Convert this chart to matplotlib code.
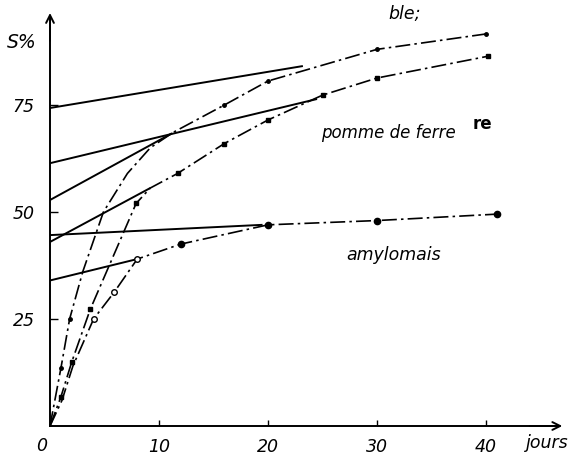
import matplotlib
matplotlib.use("Agg")
import matplotlib.pyplot as plt

# courbes de solubilisation S% en fonction du temps (jours)
ble_x = [0, 1, 1.8, 3, 4.9, 7.1, 9.2, 11.3, 16, 20, 30, 40]
ble_y = [0, 13.5, 25, 36, 50, 59, 65, 68.6, 75, 80.6, 88, 91.6]
ble_pts_x = [1, 1.8, 16, 20, 30, 40]
ble_pts_y = [13.5, 25, 75, 80.6, 88, 91.6]

pomme_x = [0, 1, 2, 3.7, 7.9, 9.2, 11.7, 16, 20, 25, 30, 40.2]
pomme_y = [0, 6.8, 15, 27.3, 52, 55.6, 59, 66, 71.5, 77.3, 81.3, 86.4]
pomme_pts_x = [1, 2, 3.7, 7.9, 11.7, 16, 20, 25, 30, 40.2]
pomme_pts_y = [6.8, 15, 27.3, 52, 59, 66, 71.5, 77.3, 81.3, 86.4]

amylo_x = [0, 1.1, 2.1, 4, 5.9, 8, 12, 20, 30, 41]
amylo_y = [0, 6, 14, 25, 31.3, 39, 42.5, 47, 48, 49.5]
amylo_open_x = [4, 5.9, 8]
amylo_open_y = [25, 31.3, 39]
amylo_full_x = [12, 20, 30, 41]
amylo_full_y = [42.5, 47, 48, 49.5]

# droites tracees depuis l'axe des S%
tangentes = [
    ([0, 23.2], [74.3, 84.1]),
    ([0, 24.5], [61.4, 76.4]),
    ([0, 11.2], [52.8, 68.4]),
    ([0, 9.2], [43, 55.6]),
    ([0, 19.5], [44.6, 47]),
    ([0, 8], [34, 39]),
]

x_ticks = [10, 20, 30, 40]
y_ticks = [25, 50, 75]

plt.rcParams["font.family"] = ["DejaVu Sans"]
plt.rcParams["font.style"] = "italic"
FS = 12.5

fig = plt.figure(figsize=(5.84, 4.61), dpi=100)
ax = fig.add_axes([0, 0, 1, 1])
ax.set_xlim(-4.587, 48.99)
ax.set_ylim(-8.18, 99.53)

for spine in ["top", "right"]:
    ax.spines[spine].set_visible(False)
ax.spines["left"].set_position(("data", 0))
ax.spines["bottom"].set_position(("data", 0))
ax.spines["left"].set_bounds(0, 95)
ax.spines["bottom"].set_bounds(0, 46.5)
ax.spines["left"].set_linewidth(1.4)
ax.spines["bottom"].set_linewidth(1.4)
ax.annotate("", xy=(47.0, 0), xytext=(44, 0),
            arrowprops=dict(arrowstyle="->", lw=1.4, color="black",
                            mutation_scale=14, shrinkA=0, shrinkB=0))
ax.annotate("", xy=(0, 96.5), xytext=(0, 90),
            arrowprops=dict(arrowstyle="->", lw=1.4, color="black",
                            mutation_scale=14, shrinkA=0, shrinkB=0))

ax.set_xticks(x_ticks)
ax.set_xticklabels([str(v) for v in x_ticks])
ax.set_yticks(y_ticks)
ax.set_yticklabels([str(v) for v in y_ticks])
ax.tick_params(axis="x", direction="in", length=4, width=1, pad=9, labelsize=FS)
ax.tick_params(axis="y", direction="in", length=6, width=1, pad=11, labelsize=FS)
ax.text(-0.75, -4.7, "0", fontsize=FS, ha="center", va="center")

for tx, ty in tangentes:
    ax.plot(tx, ty, color="black", lw=1.4, solid_capstyle="butt")

dashdot = (0, (9, 2.5, 1.5, 2.5))
ax.plot(ble_x, ble_y, color="black", lw=1.2, linestyle=dashdot)
ax.plot(ble_pts_x, ble_pts_y, "o", color="black", ms=2.5)

ax.plot(pomme_x, pomme_y, color="black", lw=1.2, linestyle=dashdot)
ax.plot(pomme_pts_x, pomme_pts_y, "s", color="black", ms=3)

ax.plot(amylo_x, amylo_y, color="black", lw=1.2, linestyle=dashdot)
ax.plot(amylo_open_x, amylo_open_y, "o", mfc="white", mec="black", mew=1, ms=4)
ax.plot(amylo_full_x, amylo_full_y, "o", color="black", ms=4.5)

ax.text(-4.0, 89.6, "S%", fontsize=13.5, ha="left", va="center")
ax.text(45.6, -3.9, "jours", fontsize=FS, ha="center", va="center")
ax.text(32.5, 96.3, "ble;", fontsize=FS, ha="center", va="center")
ax.text(24.9, 68.5, "pomme de ferre", fontsize=12, ha="left", va="center")
ax.text(38.8, 70.6, "re", fontsize=12, weight="bold", style="normal",
        ha="left", va="center")
ax.text(31.5, 40.0, "amylomais", fontsize=FS, ha="center", va="center")

fig.savefig("out.png", dpi=100)
